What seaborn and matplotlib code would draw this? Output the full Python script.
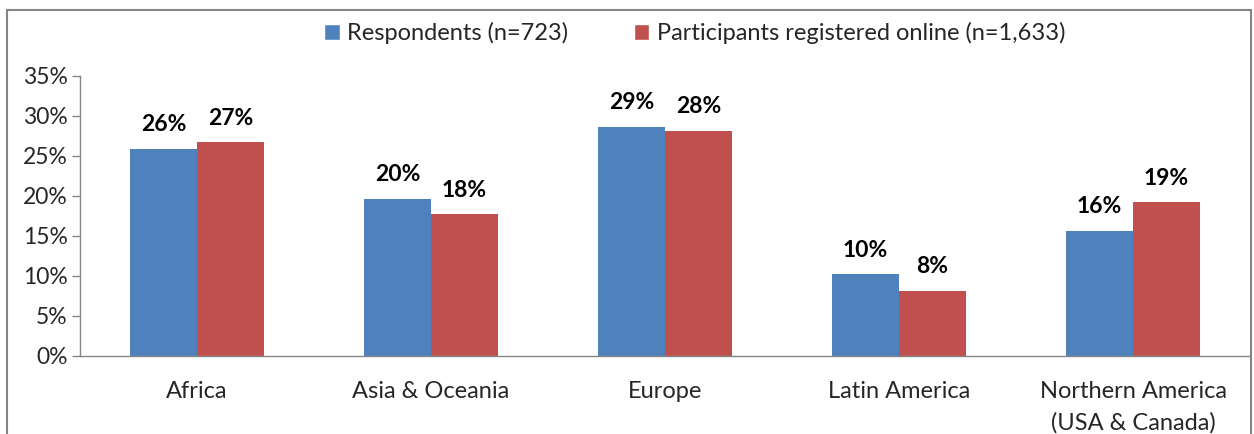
import matplotlib
matplotlib.use("Agg")
import matplotlib.pyplot as plt
import seaborn as sns
import pandas as pd
from matplotlib.patches import Patch, Rectangle

categories = ["Africa", "Asia & Oceania", "Europe", "Latin America", "Northern America\n(USA & Canada)"]
series_names = ["Respondents (n=723)", "Participants registered online (n=1,633)"]
respondents = [25.9, 19.6, 28.6, 10.2, 15.6]
participants = [26.7, 17.7, 28.1, 8.1, 19.2]
resp_labels = ["26%", "20%", "29%", "10%", "16%"]
part_labels = ["27%", "18%", "28%", "8%", "19%"]
yticks = [0, 5, 10, 15, 20, 25, 30, 35]
colors = ["#4F81BD", "#C0504D"]

df = pd.DataFrame({
    "cat": categories * 2,
    "series": [series_names[0]] * 5 + [series_names[1]] * 5,
    "val": respondents + participants,
    "lab": resp_labels + part_labels,
})

sns.set_theme(style="white")
plt.rcParams["font.family"] = ["Lato", "DejaVu Sans"]

fig = plt.figure(figsize=(12.54, 4.34), dpi=100)
ax = fig.add_axes([80/1254, 1-356/434, (1250-80)/1254, (356-76)/434])
sns.barplot(data=df, x="cat", y="val", hue="series", palette=colors, ax=ax,
            width=0.573, saturation=1, legend=False, edgecolor="none")

for cont, labs in zip(ax.containers, [resp_labels, part_labels]):
    ax.bar_label(cont, labels=labs, padding=10, fontsize=16.5, fontweight="bold", color="black")

ax.set_ylim(0, 35)
ax.set_xlim(-0.5, 4.5)
ax.set_yticks(yticks)
ax.set_yticklabels([f"{t}%" for t in yticks], fontsize=16.5)
ax.set_xlabel("")
ax.set_ylabel("")
ax.tick_params(axis="x", which="major", length=0, labelsize=17, pad=18)
for lbl in ax.get_xticklabels():
    lbl.set_linespacing(1.55)
ax.set_xticks([-0.5, 0.5, 1.5, 2.5, 3.5, 4.5], minor=True)
ax.tick_params(axis="x", which="minor", length=6, color="#868686", width=1, direction="out")
ax.tick_params(axis="y", length=6, color="#868686", width=1, direction="out", pad=3, left=True)
for s in ["top", "right"]:
    ax.spines[s].set_visible(False)
for s in ["left", "bottom"]:
    ax.spines[s].set_color("#868686")
    ax.spines[s].set_linewidth(1)

handles = [Patch(facecolor=colors[0]), Patch(facecolor=colors[1])]
fig.legend(handles, series_names, loc="center", bbox_to_anchor=(0.554, 1-33/434), ncol=2,
           frameon=False, fontsize=17, handlelength=0.65, handleheight=0.65, handletextpad=0.3,
           columnspacing=2.8)

border = Rectangle((7/1254, -0.05), (1251-7)/1254, 1-10/434 + 0.05, transform=fig.transFigure,
                   fill=False, edgecolor="#868686", linewidth=1.5, zorder=0)
fig.patches.append(border)

fig.savefig("out.png", dpi=100)
